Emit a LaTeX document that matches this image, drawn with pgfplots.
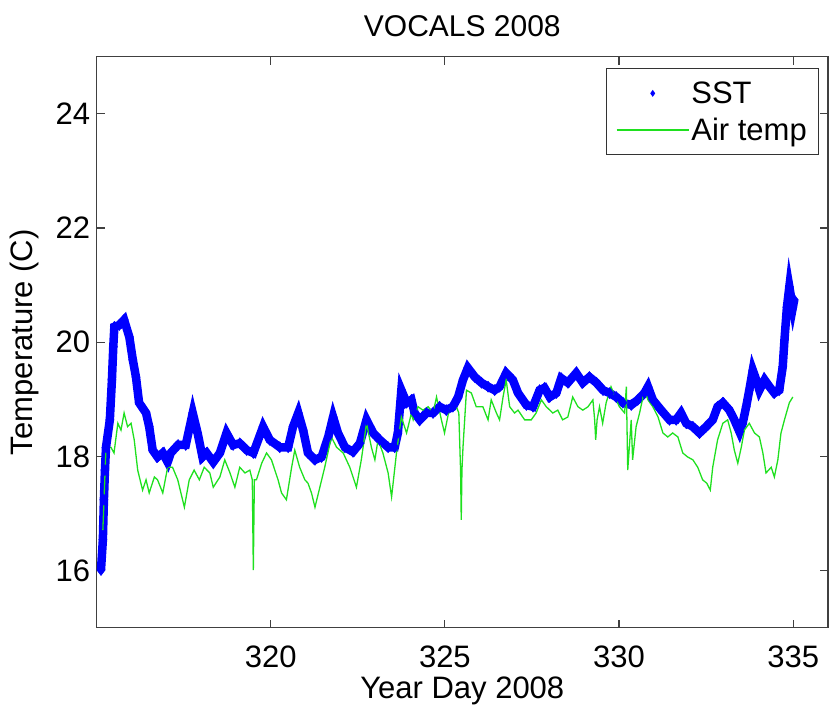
\documentclass[border=0pt]{standalone}
\usepackage{fontspec}
\setmainfont{Liberation Sans}
\usepackage{pgfplots}
\pgfplotsset{compat=1.18}

\definecolor{sstblue}{rgb}{0,0,1}
\definecolor{airgreen}{rgb}{0.12,0.88,0.12}

\begin{document}
\begin{tikzpicture}
\path[use as bounding box] (-96.6pt,-86.3pt) rectangle (736.4pt,627.7pt);
\begin{axis}[
  at={(0pt,0pt)}, anchor=south west,
  scale only axis,
  width=731.4pt, height=571pt,
  xmin=315, xmax=336, ymin=15, ymax=25,
  xtick={320,325,330,335},
  ytick={16,18,20,22,24},
  tick align=inside,
  major tick length=8pt,
  axis line style={line width=1.2pt, black!75},
  every tick/.style={line width=1.2pt, black!75},
  /pgf/number format/assume math mode=true,
  /pgf/number format/1000 sep={},
  tick label style={font=\fontsize{31}{31}\selectfont},
  xticklabel style={anchor=center, yshift=-29pt},
  yticklabel style={anchor=east, xshift=-3pt},
  label style={font=\fontsize{31}{31}\selectfont},
  xlabel style={at={(axis description cs:0.5,-0.11)}, anchor=center},
  ylabel style={at={(axis description cs:-0.098,0.5)}, anchor=center},
  title style={font=\fontsize{30}{30}\selectfont,
    at={(axis description cs:0.5,1.043)}, anchor=center},
  title={VOCALS 2008},
  xlabel={Year Day 2008},
  ylabel={Temperature (C)},
  legend style={
    at={(1,1)}, anchor=north east, xshift=-8.7pt, yshift=-11.6pt,
    font=\fontsize{31}{31}\selectfont,
    draw=black!80, line width=1pt,
    cells={anchor=west},
    row sep=9pt,
    inner xsep=10pt, inner ysep=11pt,
  },
]

% Sea surface temperature, dense point series
\addplot[color=sstblue, line width=8.5pt, mark=diamond*, mark size=5.5pt,
  mark options={line width=0.5pt, fill=sstblue},
  legend image code/.code={
    \fill[sstblue, draw=none, line width=0pt] (36pt,0pt) +(0,3.5pt) -- +(2.5pt,0) -- +(0,-3.5pt) -- +(-2.5pt,0) -- cycle;
    \path[draw=none] (0pt,0pt) -- (72pt,0pt);
  }]
coordinates {
(315.126,16.01) (315.18,16.54) (315.21,17.24) (315.24,17.76) (315.27,18.16)
(315.38,18.64) (315.44,19.34) (315.479,19.92) (315.51,20.27) (315.65,20.30)
(315.79,20.39) (315.94,20.09) (316.04,19.69) (316.13,19.39) (316.22,18.94)
(316.42,18.76) (316.51,18.52) (316.61,18.11) (316.75,17.99) (316.90,18.06)
(317.04,17.90) (317.13,18.06) (317.34,18.20) (317.56,18.20) (317.76,18.76)
(317.90,18.41) (318.04,17.99) (318.16,18.06) (318.35,17.90) (318.54,18.06)
(318.73,18.41) (318.92,18.20) (319.11,18.23) (319.31,18.11) (319.50,18.06)
(319.78,18.52) (319.97,18.29) (320.26,18.16) (320.50,18.16) (320.64,18.52)
(320.79,18.76) (320.93,18.46) (321.07,18.06) (321.27,17.94) (321.46,17.99)
(321.65,18.34) (321.79,18.69) (321.93,18.41) (322.13,18.16) (322.36,18.08)
(322.56,18.23) (322.75,18.64) (322.94,18.41) (323.13,18.29) (323.37,18.16)
(323.56,18.16) (323.65,18.41) (323.75,19.16) (323.90,18.94) (324.04,18.99)
(324.13,18.76) (324.28,18.64) (324.47,18.76) (324.66,18.76) (324.85,18.87)
(325.04,18.81) (325.23,18.87) (325.38,19.04) (325.52,19.34) (325.66,19.55)
(325.86,19.39) (326.05,19.29) (326.24,19.22) (326.43,19.16) (326.57,19.22)
(326.76,19.46) (326.95,19.34) (327.10,19.11) (327.34,18.90) (327.53,18.87)
(327.72,19.16) (327.86,19.20) (328.01,19.04) (328.20,19.11) (328.34,19.37)
(328.53,19.29) (328.77,19.46) (328.96,19.29) (329.15,19.39) (329.35,19.29)
(329.54,19.16) (329.73,19.11) (329.92,19.04) (330.11,18.94) (330.35,18.90)
(330.54,18.99) (330.73,19.11) (330.83,19.22) (330.97,18.99) (331.21,18.81)
(331.45,18.64) (331.64,18.64) (331.78,18.76) (331.93,18.58) (332.12,18.52)
(332.31,18.41) (332.50,18.52) (332.69,18.64) (332.83,18.87) (332.98,18.94)
(333.17,18.81) (333.31,18.64) (333.46,18.43) (333.55,18.58) (333.65,18.87)
(333.74,19.16) (333.84,19.51) (333.94,19.34) (334.03,19.16) (334.18,19.34)
(334.32,19.22) (334.46,19.11) (334.60,19.16) (334.70,19.57) (334.75,20.04)
(334.82,20.61) (334.89,20.97) (334.99,20.61) (335.03,20.74)
};
\addlegendentry{SST}

% Air temperature
\addplot[color=airgreen, line width=1.3pt, mark=none,
  legend image code/.code={\draw[airgreen, line width=1.3pt] (0pt,0pt) -- (72pt,0pt);}]
coordinates {
(315.18,16.71) (315.27,18.16) (315.41,18.16) (315.50,18.06) (315.61,18.58)
(315.70,18.46) (315.79,18.76) (315.89,18.52) (315.99,18.58) (316.08,18.29)
(316.18,17.76) (316.32,17.41) (316.42,17.59) (316.51,17.36) (316.66,17.64)
(316.75,17.59) (316.90,17.36) (317.04,17.81) (317.18,17.81) (317.33,17.59)
(317.52,17.11) (317.66,17.59) (317.80,17.76) (317.95,17.59) (318.09,17.81)
(318.25,17.71) (318.35,17.46) (318.54,17.64) (318.68,17.94) (318.83,17.71)
(318.97,17.46) (319.11,17.81) (319.26,17.71) (319.40,17.76) (319.47,17.59)
(319.50,16.01) (319.53,17.59) (319.59,17.59) (319.74,17.88) (319.88,18.06)
(320.02,17.94) (320.21,17.59) (320.31,17.36) (320.45,17.24) (320.60,17.81)
(320.69,18.11) (320.83,17.81) (320.98,17.59) (321.07,17.53) (321.17,17.36)
(321.27,17.11) (321.41,17.46) (321.55,17.81) (321.74,18.34) (321.89,18.16)
(322.08,18.06) (322.27,17.81) (322.46,17.46) (322.60,17.94) (322.75,18.58)
(322.89,18.16) (322.99,17.94) (323.08,18.29) (323.22,18.06) (323.37,17.71)
(323.47,17.29) (323.61,18.06) (323.75,18.69) (323.90,18.41) (324.04,18.76)
(324.09,18.64) (324.23,18.87) (324.37,18.81) (324.52,18.87) (324.66,18.76)
(324.76,19.04) (324.90,18.64) (324.99,18.41) (325.14,18.87) (325.33,18.87)
(325.40,18.76) (325.45,17.76) (325.47,16.89) (325.49,17.76) (325.52,18.16)
(325.62,19.16) (325.76,19.11) (325.90,18.87) (326.09,18.87) (326.24,18.64)
(326.33,18.99) (326.48,18.76) (326.57,18.64) (326.67,19.04) (326.76,19.34)
(326.86,18.87) (327.00,18.76) (327.10,18.81) (327.29,18.64) (327.48,18.64)
(327.62,18.76) (327.77,18.99) (327.91,18.87) (328.10,18.76) (328.24,18.81)
(328.38,18.64) (328.53,18.69) (328.67,19.04) (328.82,18.87) (328.96,18.81)
(329.11,18.87) (329.25,18.99) (329.30,18.64) (329.33,18.29) (329.37,18.64)
(329.44,18.87) (329.53,18.58) (329.63,18.94) (329.77,19.22) (329.92,18.99)
(330.01,18.87) (330.16,18.76) (330.21,19.22) (330.25,17.76) (330.35,18.64)
(330.39,17.94) (330.49,18.52) (330.59,18.76) (330.73,19.16) (330.83,18.99)
(330.97,18.87) (331.12,18.69) (331.26,18.41) (331.40,18.34) (331.54,18.41)
(331.69,18.34) (331.83,18.06) (331.97,17.99) (332.12,17.94) (332.26,17.81)
(332.40,17.59) (332.52,17.53) (332.62,17.41) (332.69,17.81) (332.83,18.29)
(332.98,18.58) (333.12,18.64) (333.22,18.41) (333.31,18.11) (333.41,17.88)
(333.51,18.16) (333.60,18.46) (333.74,18.58) (333.89,18.41) (334.03,18.34)
(334.13,18.06) (334.22,17.71) (334.37,17.81) (334.46,17.64) (334.56,17.94)
(334.65,18.41) (334.75,18.64) (334.89,18.94) (334.99,19.04)
};
\addlegendentry{Air temp}

\end{axis}
\end{tikzpicture}
\end{document}
